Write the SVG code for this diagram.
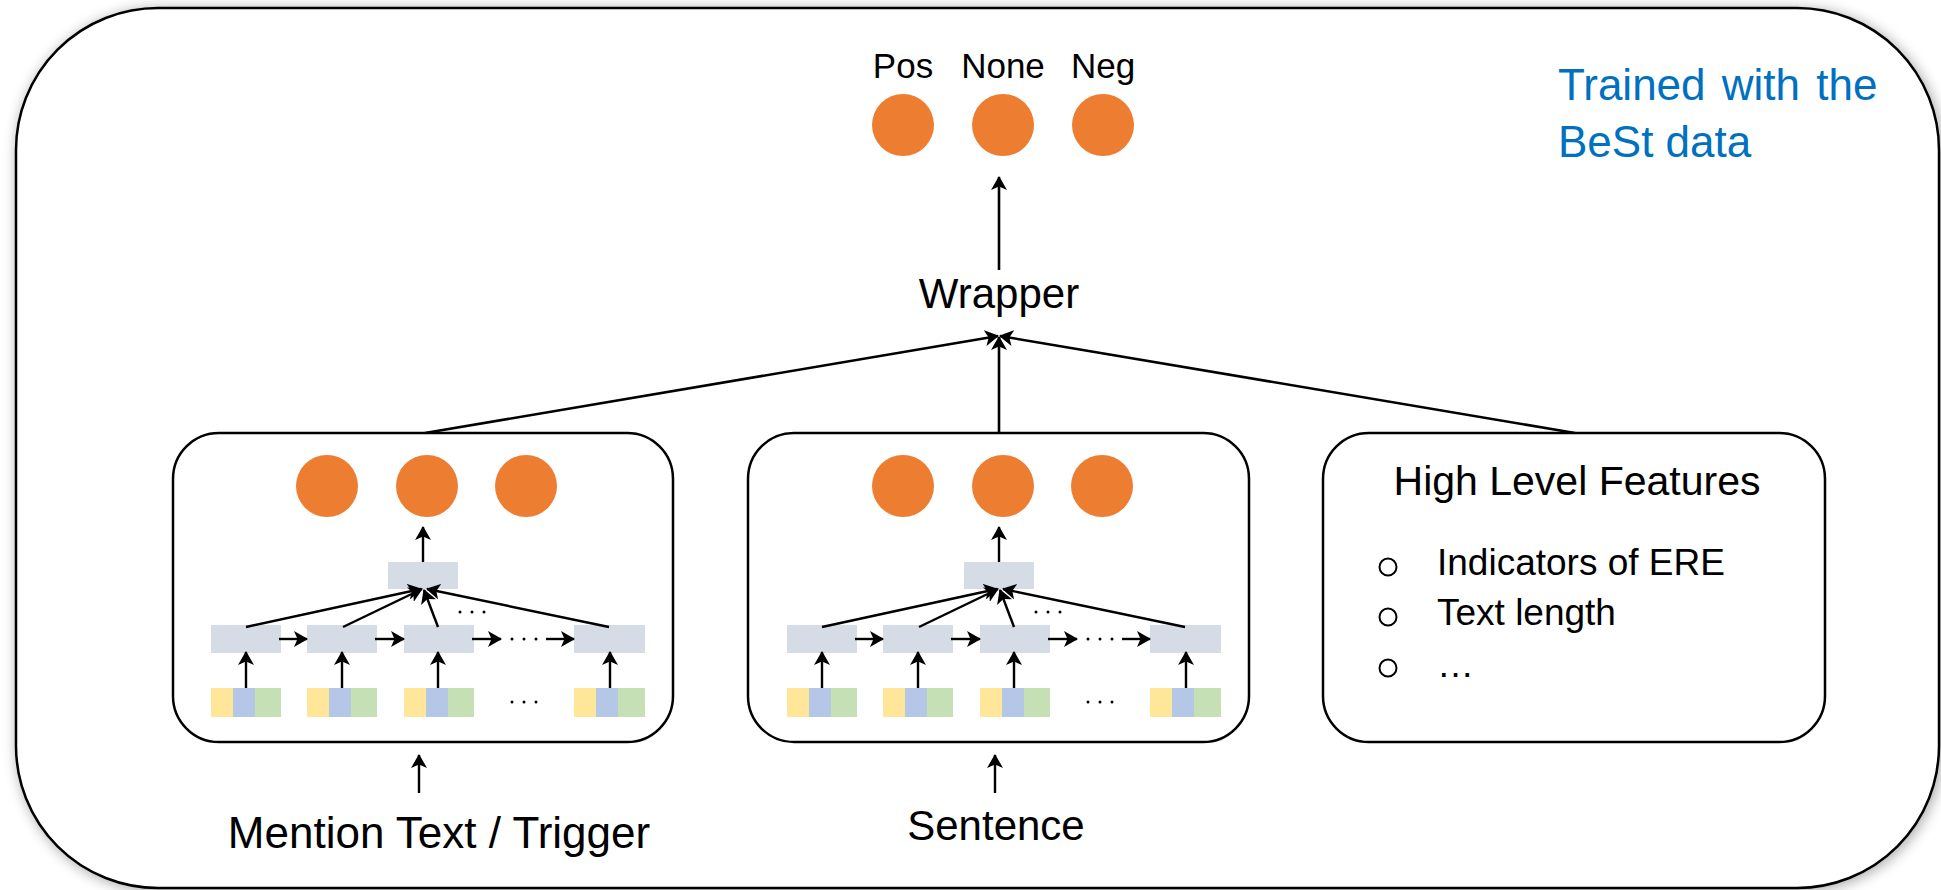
<svg xmlns="http://www.w3.org/2000/svg" width="1941" height="890" viewBox="0 0 1941 890">
  <style>
    .t { font-family: "Liberation Sans", Arial, sans-serif; fill: #000; }
    .box { fill: #fff; stroke: #000; stroke-width: 2.5; }
    .dot { fill: #ED7D31; }
    .hid { fill: #D6DCE5; }
    .y { fill: #FFE699; } .b { fill: #B4C7E7; } .g { fill: #C5E0B4; }
    .ln { stroke: #000; stroke-width: 2.4; fill: none; }
    .big { stroke: #000; stroke-width: 2.6; fill: none; }
    .el { fill: #000; }
  </style>
  <defs>
    <marker id="ah" viewBox="0 0 14 16" refX="13" refY="8" markerWidth="14" markerHeight="16" markerUnits="userSpaceOnUse" orient="auto">
      <path d="M0,0 L14,8 L0,16 L3.5,8 z" fill="#000"/>
    </marker>
    <filter id="sh" x="-5%" y="-5%" width="110%" height="110%">
      <feGaussianBlur in="SourceAlpha" stdDeviation="7"/>
      <feOffset dx="2" dy="2"/>
      <feComponentTransfer><feFuncA type="linear" slope="0.35"/></feComponentTransfer>
      <feMerge><feMergeNode/><feMergeNode in="SourceGraphic"/></feMerge>
    </filter>
  </defs>

  <rect width="1941" height="890" fill="#fff"/>

  <g id="outer">
    <rect x="16" y="8" width="1923" height="880" rx="142" ry="142" fill="#fff" stroke="#000" stroke-width="2.5" filter="url(#sh)"/>
  </g>

  <g id="trained">
    <text class="t" x="1558" y="100" font-size="44" style="fill:#0070C0" word-spacing="4">Trained with the</text>
    <text class="t" x="1558" y="157" font-size="44" style="fill:#0070C0">BeSt data</text>
  </g>

  <g id="outputs">
    <text class="t" x="903" y="78" font-size="35" text-anchor="middle">Pos</text>
    <text class="t" x="1003" y="78" font-size="35" text-anchor="middle">None</text>
    <text class="t" x="1103" y="78" font-size="35" text-anchor="middle">Neg</text>
    <circle class="dot" cx="903" cy="125" r="31"/>
    <circle class="dot" cx="1003" cy="125" r="31"/>
    <circle class="dot" cx="1103" cy="125" r="31"/>
  </g>

  <g id="wrapper">
    <text class="t" x="999" y="308" font-size="42" text-anchor="middle">Wrapper</text>
  </g>

  <g id="box-mention">
    <rect class="box" x="173" y="433" width="500" height="309" rx="46" ry="46"/>
    <g id="net1">
      <circle class="dot" cx="327" cy="486" r="31"/>
      <circle class="dot" cx="427" cy="486" r="31"/>
      <circle class="dot" cx="526" cy="486" r="31"/>
      <rect class="hid" x="388" y="562" width="70" height="27"/>
      <rect class="hid" x="211" y="625" width="70" height="28"/>
      <rect class="hid" x="307" y="625" width="70" height="28"/>
      <rect class="hid" x="404" y="625" width="70" height="28"/>
      <rect class="hid" x="574" y="625" width="71" height="28"/>
      <rect class="y" x="211" y="688" width="22" height="29"/><rect class="b" x="233" y="688" width="22" height="29"/><rect class="g" x="255" y="688" width="26" height="29"/>
      <rect class="y" x="307" y="688" width="22" height="29"/><rect class="b" x="329" y="688" width="22" height="29"/><rect class="g" x="351" y="688" width="26" height="29"/>
      <rect class="y" x="404" y="688" width="22" height="29"/><rect class="b" x="426" y="688" width="22" height="29"/><rect class="g" x="448" y="688" width="26" height="29"/>
      <rect class="y" x="574" y="688" width="22" height="29"/><rect class="b" x="596" y="688" width="22" height="29"/><rect class="g" x="618" y="688" width="27" height="29"/>
      <circle class="el" cx="512" cy="702" r="1.5"/><circle class="el" cx="524" cy="702" r="1.5"/><circle class="el" cx="536" cy="702" r="1.5"/>
      <circle class="el" cx="512" cy="639" r="1.5"/><circle class="el" cx="524" cy="639" r="1.5"/><circle class="el" cx="536" cy="639" r="1.5"/>
      <circle class="el" cx="460" cy="612" r="1.5"/><circle class="el" cx="472" cy="612" r="1.5"/><circle class="el" cx="484" cy="612" r="1.5"/>
      <g class="inner-conn">
        <line class="ln" x1="246" y1="688" x2="246" y2="652" marker-end="url(#ah)"/>
        <line class="ln" x1="342" y1="688" x2="342" y2="652" marker-end="url(#ah)"/>
        <line class="ln" x1="438" y1="688" x2="438" y2="652" marker-end="url(#ah)"/>
        <line class="ln" x1="610" y1="688" x2="610" y2="652" marker-end="url(#ah)"/>
        <line class="ln" x1="279" y1="639" x2="307" y2="639" marker-end="url(#ah)"/>
        <line class="ln" x1="375" y1="639" x2="404" y2="639" marker-end="url(#ah)"/>
        <line class="ln" x1="472" y1="639" x2="501" y2="639" marker-end="url(#ah)"/>
        <line class="ln" x1="546" y1="639" x2="574" y2="639" marker-end="url(#ah)"/>
        <line class="ln" x1="246" y1="627" x2="421" y2="589" marker-end="url(#ah)"/>
        <line class="ln" x1="343" y1="627" x2="422" y2="589" marker-end="url(#ah)"/>
        <line class="ln" x1="438" y1="627" x2="424" y2="590" marker-end="url(#ah)"/>
        <line class="ln" x1="609" y1="627" x2="427" y2="589" marker-end="url(#ah)"/>
        <line class="ln" x1="423" y1="562" x2="423" y2="527" marker-end="url(#ah)"/>
      </g>
    </g>
  </g>

  <g id="box-sentence">
    <rect class="box" x="748" y="433" width="501" height="309" rx="46" ry="46"/>
    <g transform="translate(576,0)">
      <circle class="dot" cx="327" cy="486" r="31"/>
      <circle class="dot" cx="427" cy="486" r="31"/>
      <circle class="dot" cx="526" cy="486" r="31"/>
      <rect class="hid" x="388" y="562" width="70" height="27"/>
      <rect class="hid" x="211" y="625" width="70" height="28"/>
      <rect class="hid" x="307" y="625" width="70" height="28"/>
      <rect class="hid" x="404" y="625" width="70" height="28"/>
      <rect class="hid" x="574" y="625" width="71" height="28"/>
      <rect class="y" x="211" y="688" width="22" height="29"/><rect class="b" x="233" y="688" width="22" height="29"/><rect class="g" x="255" y="688" width="26" height="29"/>
      <rect class="y" x="307" y="688" width="22" height="29"/><rect class="b" x="329" y="688" width="22" height="29"/><rect class="g" x="351" y="688" width="26" height="29"/>
      <rect class="y" x="404" y="688" width="22" height="29"/><rect class="b" x="426" y="688" width="22" height="29"/><rect class="g" x="448" y="688" width="26" height="29"/>
      <rect class="y" x="574" y="688" width="22" height="29"/><rect class="b" x="596" y="688" width="22" height="29"/><rect class="g" x="618" y="688" width="27" height="29"/>
      <circle class="el" cx="512" cy="702" r="1.5"/><circle class="el" cx="524" cy="702" r="1.5"/><circle class="el" cx="536" cy="702" r="1.5"/>
      <circle class="el" cx="512" cy="639" r="1.5"/><circle class="el" cx="524" cy="639" r="1.5"/><circle class="el" cx="536" cy="639" r="1.5"/>
      <circle class="el" cx="460" cy="612" r="1.5"/><circle class="el" cx="472" cy="612" r="1.5"/><circle class="el" cx="484" cy="612" r="1.5"/>
      <g class="inner-conn">
        <line class="ln" x1="246" y1="688" x2="246" y2="652" marker-end="url(#ah)"/>
        <line class="ln" x1="342" y1="688" x2="342" y2="652" marker-end="url(#ah)"/>
        <line class="ln" x1="438" y1="688" x2="438" y2="652" marker-end="url(#ah)"/>
        <line class="ln" x1="610" y1="688" x2="610" y2="652" marker-end="url(#ah)"/>
        <line class="ln" x1="279" y1="639" x2="307" y2="639" marker-end="url(#ah)"/>
        <line class="ln" x1="375" y1="639" x2="404" y2="639" marker-end="url(#ah)"/>
        <line class="ln" x1="472" y1="639" x2="501" y2="639" marker-end="url(#ah)"/>
        <line class="ln" x1="546" y1="639" x2="574" y2="639" marker-end="url(#ah)"/>
        <line class="ln" x1="246" y1="627" x2="421" y2="589" marker-end="url(#ah)"/>
        <line class="ln" x1="343" y1="627" x2="422" y2="589" marker-end="url(#ah)"/>
        <line class="ln" x1="438" y1="627" x2="424" y2="590" marker-end="url(#ah)"/>
        <line class="ln" x1="609" y1="627" x2="427" y2="589" marker-end="url(#ah)"/>
        <line class="ln" x1="423" y1="562" x2="423" y2="527" marker-end="url(#ah)"/>
      </g>
    </g>
  </g>

  <g id="box-features">
    <rect class="box" x="1323" y="433" width="502" height="309" rx="46" ry="46"/>
    <text class="t" x="1577" y="495" font-size="41" text-anchor="middle">High Level Features</text>
    <circle cx="1388" cy="567" r="8.5" fill="none" stroke="#000" stroke-width="2"/>
    <circle cx="1388" cy="617" r="8.5" fill="none" stroke="#000" stroke-width="2"/>
    <circle cx="1388" cy="668" r="8.5" fill="none" stroke="#000" stroke-width="2"/>
    <text class="t" x="1437" y="575" font-size="37">Indicators of ERE</text>
    <text class="t" x="1437" y="625" font-size="37">Text length</text>
    <text class="t" x="1437" y="677" font-size="37">…</text>
  </g>

  <g id="label-mention">
    <text class="t" x="439" y="848" font-size="44" text-anchor="middle">Mention Text / Trigger</text>
  </g>
  <g id="label-sentence">
    <text class="t" x="996" y="840" font-size="42" text-anchor="middle">Sentence</text>
  </g>

  <g id="connectors">
    <line class="big" x1="425" y1="433" x2="998" y2="336" marker-end="url(#ah)"/>
    <line class="big" x1="999" y1="433" x2="999" y2="337" marker-end="url(#ah)"/>
    <line class="big" x1="1575" y1="433" x2="1000" y2="336" marker-end="url(#ah)"/>
    <line class="big" x1="999" y1="270" x2="999" y2="177" marker-end="url(#ah)"/>
    <line class="ln" x1="419" y1="793" x2="419" y2="755" marker-end="url(#ah)"/>
    <line class="ln" x1="995" y1="793" x2="995" y2="755" marker-end="url(#ah)"/>
  </g>
</svg>
